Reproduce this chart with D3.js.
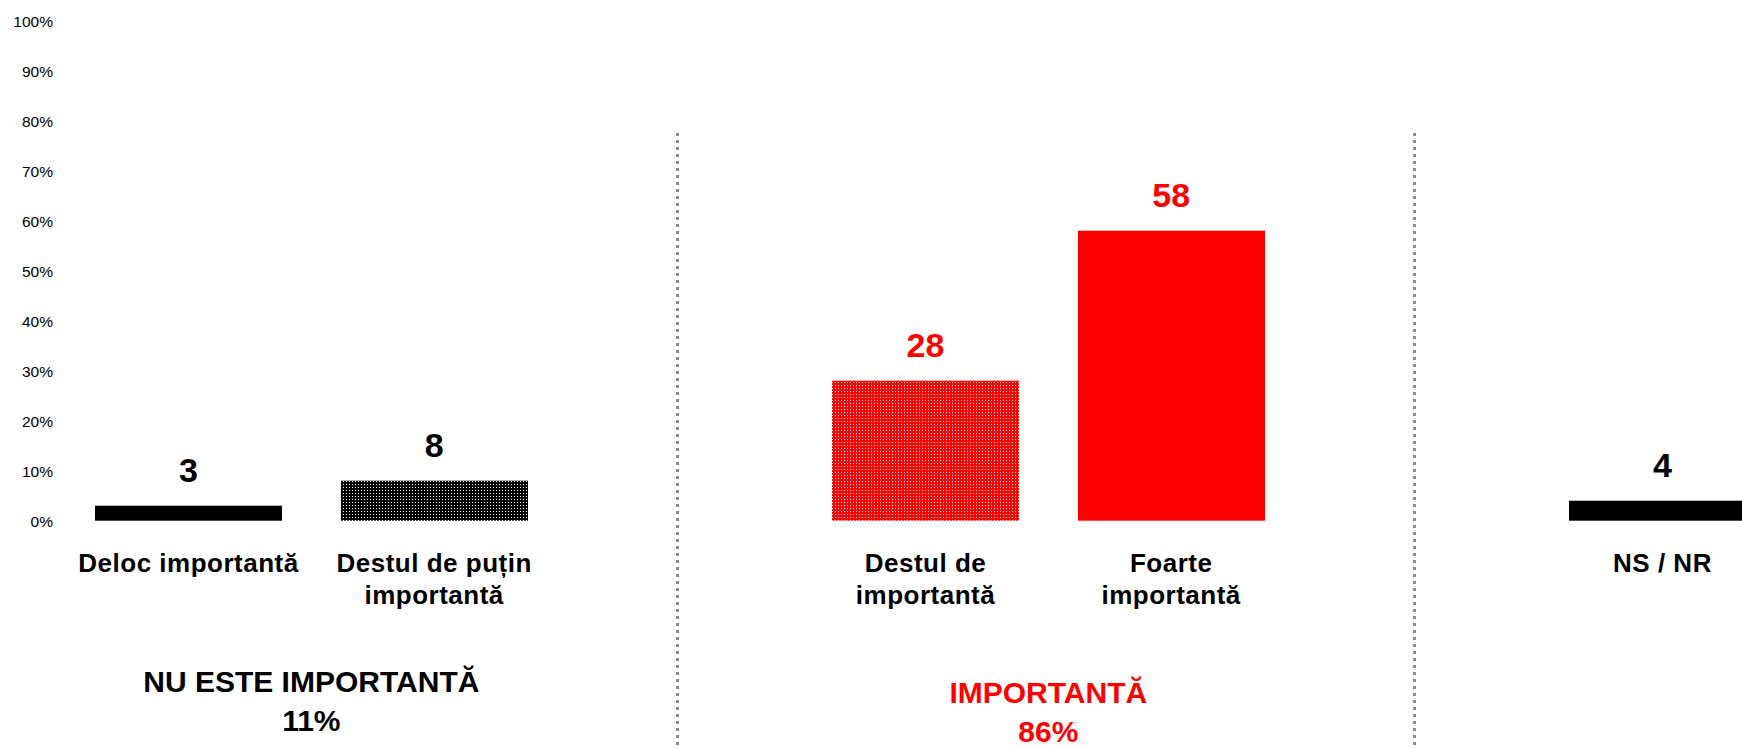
<!DOCTYPE html>
<html>
<head>
<meta charset="utf-8">
<script src="https://cdn.jsdelivr.net/npm/d3@7"></script>
<style>
  html, body { margin: 0; padding: 0; background: #fff; }
  svg { display: block; font-family: "Liberation Sans", Arial, sans-serif; }
</style>
</head>
<body>
<svg id="chart" width="1742" height="748"></svg>
<script>
// ---- data ----
const categories = ["Deloc importantă", "Destul de puțin importantă", "Destul de importantă", "Foarte importantă", "NS / NR"];
const categoryLabelLines = [["Deloc importantă"], ["Destul de puțin", "importantă"], ["Destul de", "importantă"], ["Foarte", "importantă"], ["NS / NR"]];
const values = [3, 8, 28, 58, 4];
const categoryGroup = [0, 0, 1, 1, 2];
const groupNames = ["NU ESTE IMPORTANTĂ", "IMPORTANTĂ", ""];
const groupTotals = [11, 86, null];
const yTicks = [0, 10, 20, 30, 40, 50, 60, 70, 80, 90, 100];

// ---- styles / layout ----
const groupColors = ["#000000", "#ff0000", "#000000"];
const barFills = ["#000000", "url(#dotsBlack)", "url(#dotsRed)", "#ff0000", "#000000"];
const groupLabelBaseline = [692, 703];

const W = 1742, H = 748;
const svg = d3.select("#chart");

// patterns
const defs = svg.append("defs");
function dotPattern(id, color) {
  const p = defs.append("pattern").attr("id", id).attr("patternUnits", "userSpaceOnUse")
    .attr("width", 3).attr("height", 3);
  p.append("rect").attr("width", 3).attr("height", 3).attr("fill", color);
  p.append("rect").attr("x", 1).attr("y", 1).attr("width", 1).attr("height", 1).attr("fill", "#ffffff");
}
dotPattern("dotsBlack", "#000000");
dotPattern("dotsRed", "#ff0000");

// band domain with spacer slots between groups
const keys = [];
categories.forEach((c, i) => {
  if (i > 0 && categoryGroup[i] !== categoryGroup[i - 1]) keys.push("__gap" + i);
  keys.push(c);
});

const x = d3.scaleBand().domain(keys).range([95, 1756]).paddingInner(0.2388).paddingOuter(0);
const y = d3.scaleLinear().domain([0, 100]).range([520.7, 20.7]);

// y axis (labels only)
const yAxis = d3.axisLeft(y).tickValues(yTicks).tickFormat(d => d + "%").tickSize(0).tickPadding(0);
const ag = svg.append("g").attr("transform", "translate(53,0)").call(yAxis);
ag.select(".domain").remove();
ag.selectAll("text").attr("font-size", 15.5).attr("fill", "#000")
  .attr("font-family", "'Liberation Sans', Arial, sans-serif").attr("dy", "0.36em");

// dotted separators at spacer slots
keys.filter(k => k.startsWith("__gap")).forEach(k => {
  const cx = Math.round(x(k) + x.bandwidth() / 2) - 2.5;
  svg.append("line").attr("x1", cx).attr("x2", cx).attr("y1", 133).attr("y2", H)
    .attr("stroke", "#8c8c8c").attr("stroke-width", 3).attr("stroke-dasharray", "3,4");
});

// bars
svg.append("g").selectAll("rect").data(categories).join("rect")
  .attr("x", d => Math.round(x(d)))
  .attr("y", (d, i) => y(values[i]))
  .attr("width", Math.round(x.bandwidth()))
  .attr("height", (d, i) => y(0) - y(values[i]))
  .attr("fill", (d, i) => barFills[i]);

// value labels
svg.append("g").selectAll("text").data(categories).join("text")
  .attr("x", d => x(d) + x.bandwidth() / 2)
  .attr("y", (d, i) => y(values[i]) - 24)
  .attr("text-anchor", "middle")
  .attr("font-size", 34).attr("font-weight", "bold")
  .attr("fill", (d, i) => groupColors[categoryGroup[i]])
  .text((d, i) => values[i]);

// category labels
const cl = svg.append("g").selectAll("text").data(categories).join("text")
  .attr("text-anchor", "middle")
  .attr("font-size", 26).attr("font-weight", "bold").attr("letter-spacing", "0.5px")
  .attr("fill", "#000");
cl.each(function(d, i) {
  const t = d3.select(this);
  categoryLabelLines[i].forEach((line, j) => {
    t.append("tspan").attr("x", x(d) + x.bandwidth() / 2).attr("y", y(0) + 51 + j * 32).text(line);
  });
});

// group labels
groupNames.forEach((g, gi) => {
  if (!g) return;
  const members = categories.filter((c, i) => categoryGroup[i] === gi);
  const left = x(members[0]);
  const right = x(members[members.length - 1]) + x.bandwidth();
  const cx = (left + right) / 2;
  const t = svg.append("text").attr("text-anchor", "middle")
    .attr("font-size", 30).attr("font-weight", "bold")
    .attr("fill", groupColors[gi]);
  t.append("tspan").attr("x", cx).attr("y", groupLabelBaseline[gi]).text(g);
  t.append("tspan").attr("x", cx).attr("y", groupLabelBaseline[gi] + 38.5).text(groupTotals[gi] + "%");
});
</script>
</body>
</html>
